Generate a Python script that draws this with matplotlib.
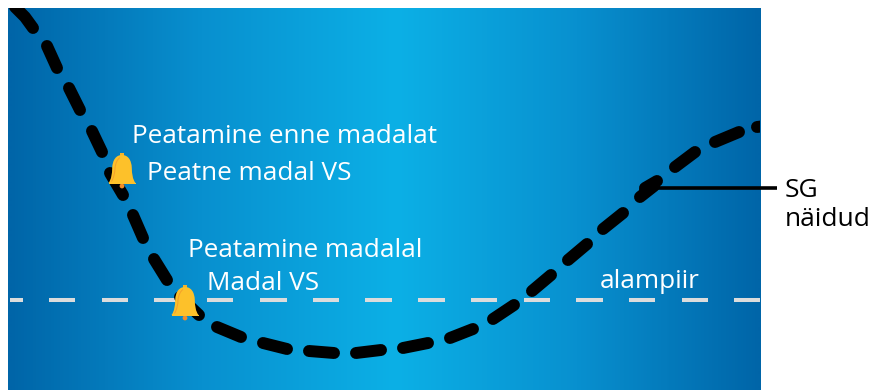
import numpy as np
import matplotlib
matplotlib.use("Agg")
import matplotlib.pyplot as plt
from matplotlib.colors import LinearSegmentedColormap
from matplotlib.path import Path
from matplotlib.patches import PathPatch, Circle, Rectangle

nan = np.nan
# SG readings (horizontal position, level from the top), gaps between readings
sg_x = [15, 25, 33, nan, 47, 57, nan, 69, 80, nan, 92, 102, nan, 110, 123, nan, 133, 143, nan,
        154, 167, nan, 180, 199, nan, 217, 241, nan, 263, 287, nan, 309, 334, nan, 356, 381, nan,
        403, 428, nan, 450, 473, nan, 493, 514, nan, 532, 551, nan, 568, 587, nan, 603, 623, nan,
        640, 654, nan, 645, 657, nan, 675, 695, nan, 715, 739, nan, 757, 765]
sg_y = [7, 17, 28, nan, 46, 68, nan, 88, 110, nan, 131, 152, nan, 173, 195, nan, 215, 238, nan,
        259, 280, nan, 297, 315, nan, 327, 337, nan, 343, 349, nan, 351, 353, nan, 353, 350, nan,
        348, 343, nan, 338, 329, nan, 319, 305, nan, 291, 275, nan, 260, 244, nan, 229, 213, nan,
        197, 186, nan, 188, 181, nan, 167, 152, nan, 142, 132, nan, 127, 126]
# lower limit dashes
limit_start = [10, 49, 102, 154, 207, 260, 313, 365, 418, 471, 524, 576, 629, 682, 734]
limit_end = [23, 75, 128, 180, 233, 287, 339, 392, 445, 497, 550, 603, 655, 708, 760]
limit_level = [300, 300, 300, 300, 300, 300, 300, 300, 300, 299.5, 299.5, 299.5, 299.5, 299.5, 299.5]
# bell alerts
bell_x = [122, 185]
bell_y = [183, 315]
# labels
labels = ["Peatamine enne madalat", "Peatne madal VS", "Peatamine madalal", "Madal VS", "alampiir"]
label_x = [132, 147, 188, 207, 600]
label_y = [143, 180, 257, 290, 288]
side_labels = ["SG", "näidud"]
side_x = [785, 785]
side_y = [197, 226]

plt.rcParams["font.family"] = ["Open Sans", "DejaVu Sans"]
fig = plt.figure(figsize=(8.71, 3.90), dpi=100, facecolor="white")
ax = fig.add_axes([0, 0, 1, 1])
ax.axis("off")

cmap = LinearSegmentedColormap.from_list("bg", ["#0065a8", "#0890cf", "#0cb0e6", "#0890cf", "#0065a8"])
grad = np.concatenate([np.linspace(0, 0.5, 387), np.linspace(0.5, 1, 365)])[None, :]
ax.imshow(grad, cmap=cmap, extent=(8, 760, 390, 8), aspect="auto", zorder=1, interpolation="bilinear")
ax.set_xlim(0, 871)
ax.set_ylim(390, 0)

for a, b, lv in zip(limit_start, limit_end, limit_level):
    ax.plot([a, b], [lv, lv], color="#dcdcdc", lw=2.9, solid_capstyle="butt", zorder=2)

clip = Rectangle((8, 8), 752, 382, transform=ax.transData)
line, = ax.plot(sg_x, sg_y, color="black", lw=8.6, solid_capstyle="round", zorder=3)
line.set_clip_path(clip)
ax.plot([650, 777], [188, 188], color="black", lw=2.6, solid_capstyle="butt", zorder=3)


def bell(cx, by):
    M, L, C, Z = Path.MOVETO, Path.LINETO, Path.CURVE4, Path.CLOSEPOLY
    pts = [(-13.5, 0), (-10.5, -4), (-10, -9), (-9.8, -15), (-9.5, -23), (-6, -28), (0, -28),
           (6, -28), (9.5, -23), (9.8, -15), (10, -9), (10.5, -4), (13.5, 0), (-13.5, 0)]
    codes = [M] + [C] * 12 + [Z]
    v = [(cx + x, by + y) for x, y in pts]
    ax.add_patch(Circle((cx, by + 3.0), 2.4, fc="#f28c28", ec="none", zorder=4))
    ax.add_patch(Rectangle((cx - 2.2, by - 30.5), 4.4, 4, fc="#f5b32a", ec="none", zorder=4))
    ax.add_patch(PathPatch(Path(v, codes), fc="#fdc12a", ec="none", zorder=5))
    ax.add_patch(Rectangle((cx - 13.5, by - 0.5), 27, 1.2, fc="#fdc12a", ec="none", zorder=5))
    hl = [(-10.5, -1.5), (-8, -6), (-7.2, -10), (-7, -15), (-6.5, -20), (-4.5, -24), (-2, -25.5)]
    ax.add_patch(PathPatch(Path([(cx + x, by + y) for x, y in hl], [M] + [C] * 6),
                           fc="none", ec="#f4a02c", lw=0.7, zorder=6))


for x, y in zip(bell_x, bell_y):
    bell(x, y)

for t, x, y in zip(labels, label_x, label_y):
    ax.text(x, y, t, color="white", fontsize=18.8, ha="left", va="baseline", zorder=7)
for t, x, y in zip(side_labels, side_x, side_y):
    ax.text(x, y, t, color="black", fontsize=19, ha="left", va="baseline", zorder=7)

fig.savefig("out.png", dpi=100)
